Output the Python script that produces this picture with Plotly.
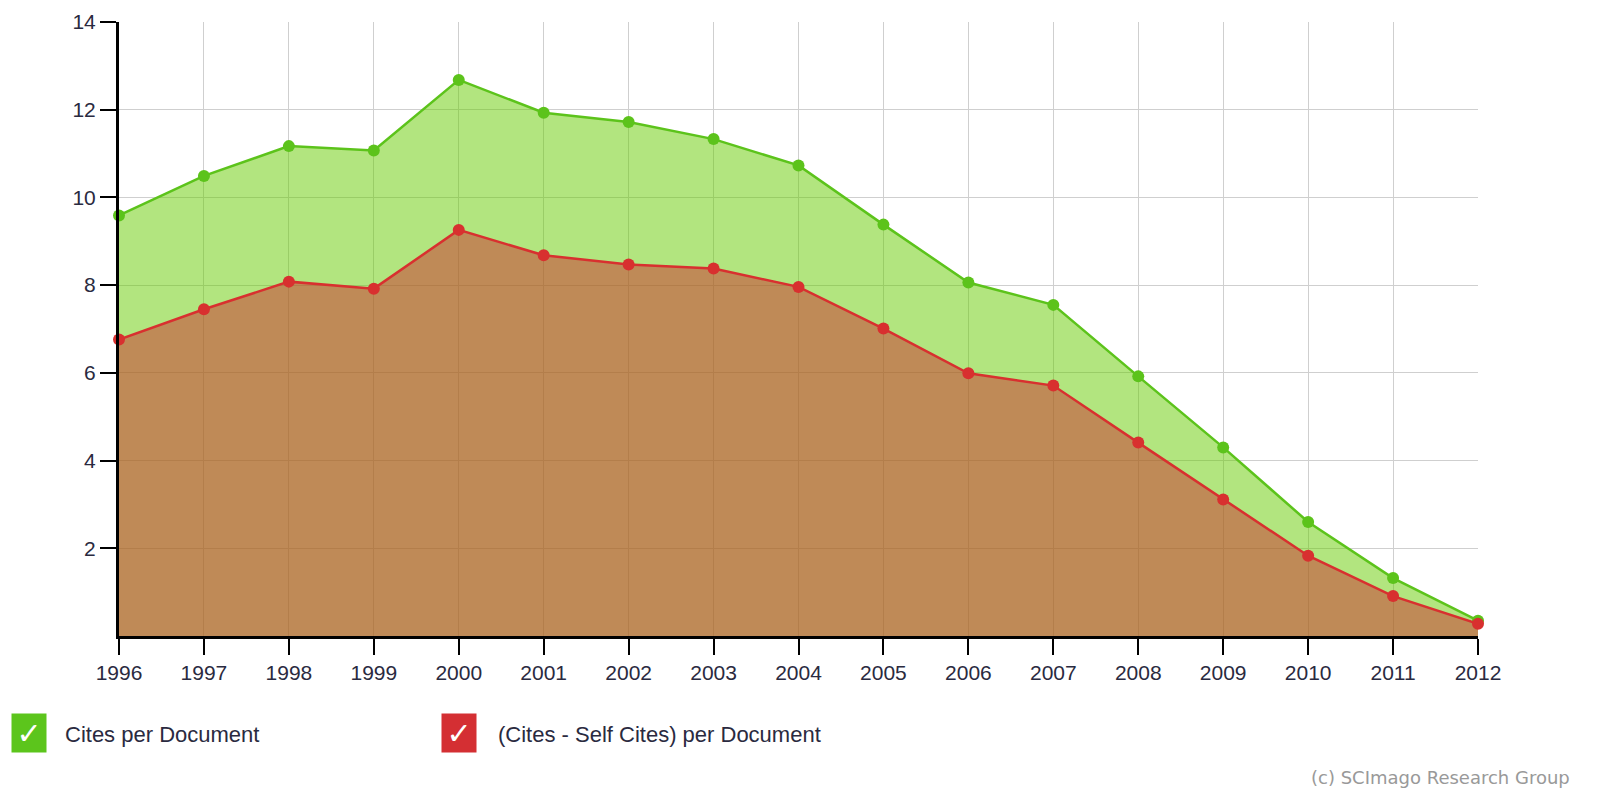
import plotly.graph_objects as go

# data
years = list(range(1996, 2013))
cites_per_doc = [9.59, 10.49, 11.17, 11.07, 12.68, 11.93, 11.72, 11.33, 10.73,
                 9.38, 8.06, 7.55, 5.92, 4.30, 2.60, 1.32, 0.35]
cites_minus_self = [6.76, 7.45, 8.08, 7.92, 9.26, 8.68, 8.47, 8.38, 7.96,
                    7.01, 5.99, 5.71, 4.41, 3.11, 1.83, 0.91, 0.28]
y_ticks = [2, 4, 6, 8, 10, 12, 14]
name_green = "Cites per Document"
name_red = "(Cites - Self Cites) per Document"

fig = go.Figure()

fig.add_trace(go.Scatter(
    x=years, y=cites_per_doc, name=name_green, mode="lines+markers",
    fill="tozeroy", fillcolor="rgba(102,204,0,0.5)",
    line=dict(color="#5cc31b", width=2.5),
    marker=dict(color="#5cc31b", size=12), cliponaxis=False))

fig.add_trace(go.Scatter(
    x=years, y=cites_minus_self, name=name_red, mode="lines+markers",
    fill="tozeroy", fillcolor="rgba(204,47,47,0.5)",
    line=dict(color="#d8302f", width=2.5),
    marker=dict(color="#d8302f", size=12), cliponaxis=False))

tick_font = dict(family="Liberation Sans, Arial", size=21, color="#2a2a40")

axis_style = dict(showgrid=True, gridcolor="#cfcfcf", gridwidth=1,
                  showline=True, linecolor="black", linewidth=3,
                  ticks="outside", ticklen=16, tickwidth=2,
                  tickcolor="black", tickfont=tick_font,
                  zeroline=False, automargin=False)
fig.update_xaxes(range=[1996, 2012], tickvals=years, **axis_style)
fig.update_yaxes(range=[0, 14], tickvals=y_ticks, **axis_style)

# custom check-box legend
legend_items = [(name_green, "#5cc51c", -0.0662, -0.0412),
                (name_red, "#d42f33", 0.2502, 0.2774)]
for label, col, bx, tx in legend_items:
    fig.add_annotation(x=bx, y=-0.158, xref="paper", yref="paper",
                       text="✓", showarrow=False, bgcolor=col,
                       xanchor="center", yanchor="middle",
                       width=34, height=38, borderpad=0,
                       font=dict(family="DejaVu Sans", size=30, color="white"))
    fig.add_annotation(x=tx, y=-0.160, xref="paper", yref="paper",
                       text=label, showarrow=False, xanchor="left",
                       yanchor="middle",
                       font=dict(family="Liberation Sans, Arial", size=22,
                                 color="#2a2a40"))

fig.add_annotation(x=0.876, y=-0.231, xref="paper", yref="paper",
                   text="(c) SCImago Research Group", showarrow=False,
                   xanchor="left", yanchor="middle",
                   font=dict(family="DejaVu Sans", size=18, color="#999999"))

fig.update_layout(
    width=1590, height=782, showlegend=False,
    plot_bgcolor="white", paper_bgcolor="white",
    margin=dict(l=111, r=120, t=14, b=154))

fig.write_html("out.html")
